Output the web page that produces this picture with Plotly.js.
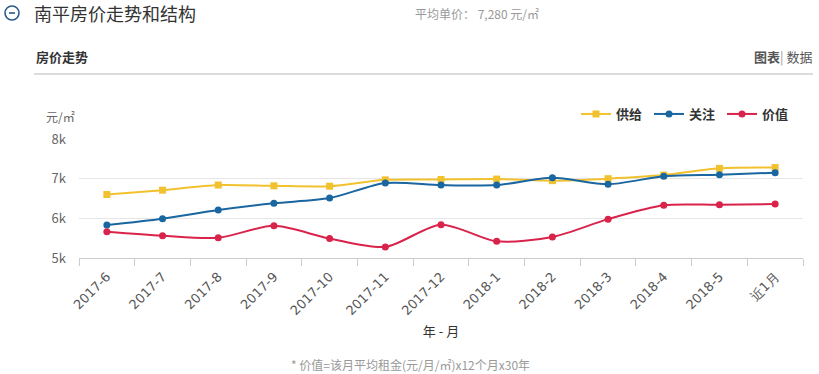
<!DOCTYPE html>
<html><head><meta charset="utf-8">
<script src="https://cdn.plot.ly/plotly-3.0.1.min.js"></script>
<style>html,body{margin:0;padding:0;background:#fff;}#chart{width:819px;height:374px;}</style>
</head><body><div id="chart"></div>
<script>
const categories = ["2017-6","2017-7","2017-8","2017-9","2017-10","2017-11","2017-12","2018-1","2018-2","2018-3","2018-4","2018-5","近1月"];
const supply = [6600,6710,6840,6820,6810,6970,6980,6990,6950,7000,7090,7260,7280];
const attention = [5830,5990,6210,6380,6510,6890,6840,6840,7020,6860,7060,7100,7150];
const value = [5660,5560,5510,5810,5490,5280,5840,5420,5530,5980,6330,6340,6360];
const yTickVals = [5000,6000,7000,8000];
const yTickText = ["5k","6k","7k","8k"];

const FONT = "'Microsoft YaHei','Noto Sans CJK SC','DejaVu Sans',sans-serif";
function tr(name, y, color, symbol){
  return {type:'scatter', mode:'lines+markers', name:name, x:categories, y:y,
    line:{color:color, width:2, shape:'spline', smoothing:0.8},
    marker:{color:color, size:7, symbol:symbol}};
}
const data = [
  tr("供给", supply, "#f2c12e", "square"),
  tr("关注", attention, "#1a66a0", "circle"),
  tr("价值", value, "#d9234a", "circle")
];
function px(x){return (x-79)/724;}
function py(y){return (258-y)/119;}
const layout = {
  width:819, height:374, paper_bgcolor:'#fff', plot_bgcolor:'#fff',
  margin:{l:79, r:16, t:139, b:116},
  font:{family:FONT, color:'#555'},
  showlegend:true,
  legend:{orientation:'h', x:px(795), xanchor:'right', y:py(114), yanchor:'middle',
    font:{size:13, color:'#333', weight:'bold'}, itemwidth:30, entrywidth:28, bgcolor:'rgba(0,0,0,0)'},
  xaxis:{type:'category', tickangle:-45, tickson:'boundaries', ticks:'outside', ticklen:7, tickcolor:'#ccc',
    showline:true, linecolor:'#ccc', showgrid:false, zeroline:false, ticklabelstandoff:5,
    tickfont:{size:13, color:'#555', family:"'DejaVu Sans', sans-serif"}, range:[-0.5,12.5],
    title:{text:'年 - 月', font:{size:13, color:'#333'}, standoff:9}},
  yaxis:{range:[5000,8000], tickvals:yTickVals, ticktext:yTickText, showgrid:true, gridcolor:'#e6e6e6',
    zeroline:false, showline:false, ticks:'', ticklabelstandoff:12, tickfont:{size:13, color:'#666'}},
  shapes:[
    {type:'line', xref:'paper', yref:'paper', x0:px(34), x1:px(813), y0:py(74), y1:py(74), line:{color:'#dcdcdc', width:2}},
    {type:'circle', xref:'paper', yref:'paper', x0:px(5), x1:px(19), y0:py(6), y1:py(20), line:{color:'#2a5a8c', width:1.6}},
    {type:'line', xref:'paper', yref:'paper', x0:px(9), x1:px(15), y0:py(13), y1:py(13), line:{color:'#2a5a8c', width:1.6}}
  ],
  annotations:[
    {xref:'paper', yref:'paper', x:px(32), y:py(13), xanchor:'left', yanchor:'middle', showarrow:false,
     text:'南平房价走势和结构', font:{size:18, color:'#333'}},
    {xref:'paper', yref:'paper', x:px(413), y:py(13), xanchor:'left', yanchor:'middle', showarrow:false,
     text:'平均单价： 7,280 元/㎡', font:{size:12, color:'#999'}},
    {xref:'paper', yref:'paper', x:px(34), y:py(56), xanchor:'left', yanchor:'middle', showarrow:false,
     text:'<b>房价走势</b>', font:{size:13, color:'#333'}},
    {xref:'paper', yref:'paper', x:px(814), y:py(56), xanchor:'right', yanchor:'middle', showarrow:false,
     text:'<b>图表</b><span style="color:#999">|</span> 数据', font:{size:13, color:'#555'}},
    {xref:'paper', yref:'paper', x:px(44), y:py(116), xanchor:'left', yanchor:'middle', showarrow:false,
     text:'元/㎡', font:{size:12, color:'#666'}},
    {xref:'paper', yref:'paper', x:px(410), y:py(364), xanchor:'center', yanchor:'middle', showarrow:false,
     text:'* 价值=该月平均租金(元/月/㎡)x12个月x30年', font:{size:12, color:'#999'}}
  ]
};
Plotly.newPlot('chart', data, layout, {displayModeBar:false, staticPlot:true});
</script></body></html>
